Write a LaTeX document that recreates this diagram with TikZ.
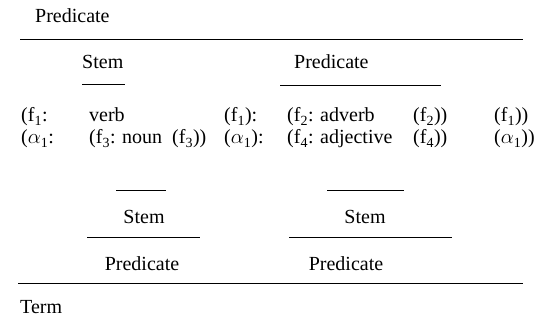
\documentclass[tikz,border=0pt]{standalone}
\usepackage{fontspec}
\setmainfont{Liberation Serif}
\newcommand{\fsub}[1]{f\textsubscript{#1}}
\newcommand{\asub}{$\alpha$\textsubscript{1}}
\begin{document}
\begin{tikzpicture}[x=1pt, y=-1pt, font=\fontsize{20}{22}\selectfont,
    lbl/.style={anchor=base west, inner sep=0pt},
    clbl/.style={anchor=base, inner sep=0pt},
    rule/.style={line width=0.9pt}]
    \useasboundingbox (0,0) rectangle (543,320);

    % Top predicate
    \node[lbl] (predtop) at (35,23) {Predicate};
    \coordinate (topl) at (20,39);
    \coordinate (topr) at (523,39);
    \draw[rule] (topl) -- (topr);

    % Stem and predicate
    \node[lbl] (stemA) at (82,69) {Stem};
    \node[lbl] (predA) at (294,69) {Predicate};
    \draw[rule] (82,84) coordinate (sAl) -- (125,84) coordinate (sAr);
    \draw[rule] (280,85) coordinate (pAl) -- (441,85) coordinate (pAr);

    % First row
    \node[lbl] (r1a) at (21,122) {(\fsub{1}:};
    \node[lbl] (r1b) at (89,122) {verb};
    \node[lbl] (r1c) at (224,122) {(\fsub{1}):};
    \node[lbl] (r1d) at (287,122) {(\fsub{2}: adverb};
    \node[lbl] (r1e) at (413,122) {(\fsub{2}))};
    \node[lbl] (r1f) at (494,122) {(\fsub{1}))};

    % Second row
    \node[lbl] (r2a) at (21,144) {(\asub:};
    \node[lbl] (r2b) at (89,144) {(\fsub{3}: noun\ \ (\fsub{3}))};
    \node[lbl] (r2c) at (224,144) {(\asub):};
    \node[lbl] (r2d) at (287,144) {(\fsub{4}: adjective};
    \node[lbl] (r2e) at (413,144) {(\fsub{4}))};
    \node[lbl] (r2f) at (494,144) {(\asub))};

    % Short rules
    \draw[rule] (116,190) coordinate (shAl) -- (166,190) coordinate (shAr);
    \draw[rule] (327,190) coordinate (shBl) -- (404,190) coordinate (shBr);

    % Lower stems
    \node[clbl] (stemB) at (144,224) {Stem};
    \node[clbl] (stemC) at (365,224) {Stem};
    \draw[rule] (87,237) coordinate (sBl) -- (200,237) coordinate (sBr);
    \draw[rule] (289,237) coordinate (sCl) -- (452,237) coordinate (sCr);

    % Lower predicates
    \node[clbl] (predB) at (142,270) {Predicate};
    \node[clbl] (predC) at (346,270) {Predicate};
    \coordinate (botl) at (18,283);
    \coordinate (botr) at (523,283);
    \draw[rule] (botl) -- (botr);

    % Term
    \node[lbl] (term) at (20,313) {Term};
\end{tikzpicture}
\end{document}
